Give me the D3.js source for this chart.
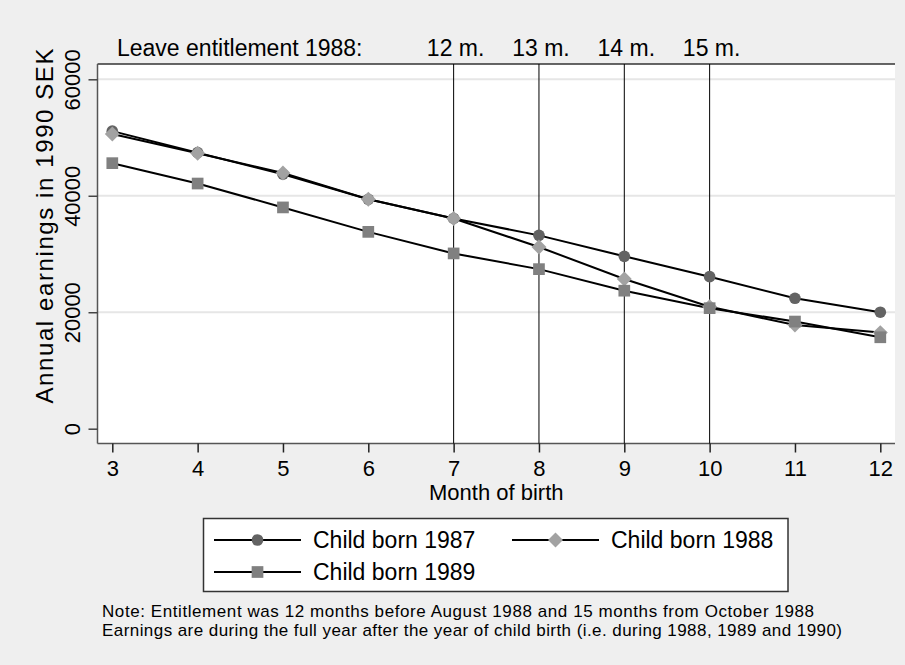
<!DOCTYPE html>
<html>
<head>
<meta charset="utf-8">
<title>Annual earnings by month of birth</title>
<script src="https://d3js.org/d3.v7.min.js"></script>
<style>
    body { margin: 0; background: #efefef; }
    svg text { font-family: "Liberation Sans", Arial, sans-serif; fill: #000; }
</style>
</head>
<body>
<div id="chart"></div>
<script>
    // data
    const months = [3, 4, 5, 6, 7, 8, 9, 10, 11, 12];
    const born1987 = [51100, 47400, 43700, 39400, 36100, 33200, 29600, 26100, 22400, 20000];
    const born1988 = [50600, 47300, 43900, 39400, 36100, 31200, 25700, 20950, 17800, 16500];
    const born1989 = [45600, 42100, 38000, 33800, 30100, 27400, 23700, 20700, 18400, 15700];
    const yTicks = [0, 20000, 40000, 60000];
    const leaveMonths = [7, 8, 9, 10];
    const leaveLabels = ["12 m.", "13 m.", "14 m.", "15 m."];
    const seriesNames = ["Child born 1987", "Child born 1988", "Child born 1989"];
    const notes = [
        "Note: Entitlement was 12 months before August 1988 and 15 months from October 1988",
        "Earnings are during the full year after the year of child birth (i.e. during 1988, 1989 and 1990)"
    ];

    const W = 905, H = 665;
    const plot = {left: 97.5, right: 895, top: 64, bottom: 443.5};

    const svg = d3.select("#chart").append("svg")
        .attr("width", W).attr("height", H);

    svg.append("rect").attr("width", W).attr("height", H).attr("fill", "#efefef");

    const x = d3.scaleLinear().domain([3, 12]).range([112.3, 880.3]);
    const y = d3.scaleLinear().domain([0, 60000]).range([428.7, 79.3]);

    // plot region
    svg.append("rect")
        .attr("x", plot.left).attr("y", plot.top)
        .attr("width", plot.right - plot.left).attr("height", plot.bottom - plot.top)
        .attr("fill", "#fff");

    // gridlines
    svg.append("g").selectAll("line")
        .data(yTicks.filter(d => d > 0))
        .join("line")
        .attr("x1", plot.left).attr("x2", plot.right)
        .attr("y1", d => y(d)).attr("y2", d => y(d))
        .attr("stroke", "#e6e6e6").attr("stroke-width", 2);

    // frame line on top
    svg.append("line").attr("x1", plot.left).attr("x2", plot.right)
        .attr("y1", plot.top).attr("y2", plot.top)
        .attr("stroke", "#333").attr("stroke-width", 1.5);

    // y axis
    const yAxis = svg.append("g")
        .attr("transform", `translate(${plot.left},0)`)
        .call(d3.axisLeft(y).tickValues(yTicks).tickSize(9).tickSizeOuter(0).tickFormat(d3.format("d")));
    yAxis.select(".domain").attr("d", `M0,${plot.top}V${plot.bottom}`).attr("stroke", "#555").attr("stroke-width", 1.5);
    yAxis.selectAll(".tick line").attr("stroke", "#444").attr("stroke-width", 1.5);
    yAxis.selectAll(".tick text")
        .attr("font-size", 22)
        .attr("x", null).attr("dy", null)
        .attr("text-anchor", "middle")
        .attr("transform", "translate(-17.5,0) rotate(-90)");

    // x axis
    const xAxis = svg.append("g")
        .attr("transform", `translate(0,${plot.bottom})`)
        .call(d3.axisBottom(x).tickValues(months).tickSize(9).tickSizeOuter(0).tickFormat(d3.format("d")));
    xAxis.select(".domain").attr("d", `M${plot.left},0H${plot.right}`).attr("stroke", "#555").attr("stroke-width", 1.5);
    xAxis.selectAll(".tick line").attr("stroke", "#222").attr("stroke-width", 1.5);
    xAxis.selectAll(".tick text").attr("font-size", 22).attr("dy", null).attr("y", 32);

    // axis titles
    svg.append("text")
        .attr("transform", "translate(53,226) rotate(-90)")
        .attr("text-anchor", "middle").attr("font-size", 24)
        .attr("textLength", 355).attr("lengthAdjust", "spacing")
        .text("Annual earnings in 1990 SEK");
    svg.append("text")
        .attr("x", (plot.left + plot.right) / 2).attr("y", 500)
        .attr("text-anchor", "middle").attr("font-size", 22)
        .text("Month of birth");

    // entitlement lines and labels
    svg.append("g").selectAll("line")
        .data(leaveMonths)
        .join("line")
        .attr("x1", d => x(d)).attr("x2", d => x(d))
        .attr("y1", plot.top).attr("y2", plot.bottom)
        .attr("stroke", "#000").attr("stroke-width", 1);
    svg.append("text").attr("x", 117).attr("y", 56).attr("font-size", 23)
        .text("Leave entitlement 1988:");
    svg.append("g").selectAll("text")
        .data(leaveMonths)
        .join("text")
        .attr("x", d => x(d) + 2).attr("y", 56)
        .attr("text-anchor", "middle").attr("font-size", 23)
        .text((d, i) => leaveLabels[i]);

    // series: circle, diamond (rotated square), square
    const symbols = [d3.symbolCircle, d3.symbolSquare, d3.symbolSquare];
    const symbolSizes = [107, 112, 137];
    const symbolRot = [0, 45, 0];
    const fills = ["#636363", "#a2a2a2", "#808080"];
    const series = [born1987, born1988, born1989];

    const line = d3.line().x((d, i) => x(months[i])).y(d => y(d));

    series.forEach(vals => {
        svg.append("path")
            .datum(vals)
            .attr("d", line)
            .attr("fill", "none").attr("stroke", "#000").attr("stroke-width", 2);
    });
    series.forEach((vals, k) => {
        svg.append("g").selectAll("path")
            .data(vals)
            .join("path")
            .attr("transform", (d, i) => `translate(${x(months[i])},${y(d)}) rotate(${symbolRot[k]})`)
            .attr("d", d3.symbol().type(symbols[k]).size(symbolSizes[k]))
            .attr("fill", fills[k]);
    });

    // legend
    const legend = svg.append("g");
    legend.append("rect")
        .attr("x", 203.5).attr("y", 518.5).attr("width", 584.5).attr("height", 73)
        .attr("fill", "#fff").attr("stroke", "#333").attr("stroke-width", 1.5);
    const legendPos = [[214, 540], [512, 540], [214, 572]];
    seriesNames.forEach((name, k) => {
        const [lx, ly] = legendPos[k];
        const item = legend.append("g").attr("transform", `translate(${lx},${ly})`);
        item.append("line").attr("x1", 0).attr("x2", 87).attr("y1", 0).attr("y2", 0)
            .attr("stroke", "#000").attr("stroke-width", 2);
        item.append("path").attr("transform", `translate(43.5,0) rotate(${symbolRot[k]})`)
            .attr("d", d3.symbol().type(symbols[k]).size(symbolSizes[k]))
            .attr("fill", fills[k]);
        item.append("text").attr("x", 99).attr("y", 8).attr("font-size", 23).text(name);
    });

    // notes
    const noteWidths = [712, 740];
    svg.append("g").selectAll("text")
        .data(notes)
        .join("text")
        .attr("x", 102).attr("y", (d, i) => 617 + i * 19)
        .attr("font-size", 17)
        .attr("textLength", (d, i) => noteWidths[i])
        .attr("lengthAdjust", "spacing")
        .text(d => d);
</script>
</body>
</html>
